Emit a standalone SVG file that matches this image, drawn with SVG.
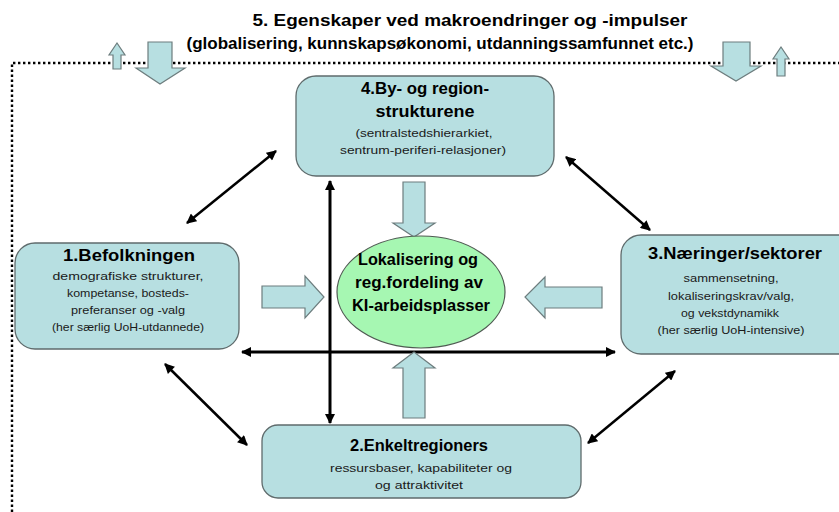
<svg xmlns="http://www.w3.org/2000/svg" width="839" height="512" viewBox="0 0 839 512">
<defs>
<style>
.box{fill:#b7dfe1;stroke:#5f6b6c;stroke-width:1.3}
.blk{fill:#b7dfe1;stroke:#6d7d7e;stroke-width:1.2}
.ttl{font-family:"Liberation Sans",Arial,sans-serif;font-weight:bold;fill:#000;text-anchor:middle}
.sub{font-family:"Liberation Sans",Arial,sans-serif;font-size:11.5px;fill:#1a1a1a;text-anchor:middle}
.con{stroke:#000;fill:none;marker-start:url(#ah);marker-end:url(#ah)}
</style>
<marker id="ah" viewBox="0 0 10 10" refX="9" refY="5" markerWidth="11" markerHeight="10" markerUnits="userSpaceOnUse" orient="auto-start-reverse">
<path d="M0,0 L10,5 L0,10 z" fill="#000"/>
</marker>
</defs>
<rect width="839" height="512" fill="#fff"/>

<g id="frame">
<path d="M12,512 L12,63 L839,63" fill="none" stroke="#000" stroke-width="2.4" stroke-dasharray="2.4,2.6"/>
</g>

<g id="macro">
<text class="ttl" x="470" y="26" font-size="16" textLength="435" lengthAdjust="spacingAndGlyphs">5. Egenskaper ved makroendringer og -impulser</text>
<text class="ttl" x="440" y="49" font-size="16" textLength="507" lengthAdjust="spacingAndGlyphs">(globalisering, kunnskapsøkonomi, utdanningssamfunnet etc.)</text>
<polygon class="blk" points="113,69 113,55 109,55 117,43 125,55 121,55 121,69"/>
<polygon class="blk" points="148,42 172,42 172,68 185,68 160,84 136,68 148,68"/>
<polygon class="blk" points="723,42 750,42 750,66 761,66 736,81 711,66 723,66"/>
<polygon class="blk" points="777,76 777,59 773,59 781,47 789,59 785,59 785,76"/>
</g>

<g id="connectors">
<line class="con" x1="242" y1="352" x2="615" y2="352" stroke-width="3"/>
<line class="con" x1="330" y1="181" x2="330" y2="423" stroke-width="3"/>
<line class="con" x1="187" y1="223" x2="276" y2="151" stroke-width="2.5"/>
<line class="con" x1="566" y1="157" x2="650" y2="230" stroke-width="2.5"/>
<line class="con" x1="165" y1="364" x2="247" y2="445" stroke-width="2.5"/>
<line class="con" x1="588" y1="443" x2="675" y2="371" stroke-width="2.5"/>
<polygon class="blk" points="403,182 425,182 425,223 435,223 414,237 393,223 403,223"/>
<polygon class="blk" points="262,286 305,286 305,276 324,297 305,318 305,308 262,308"/>
<polygon class="blk" points="602,287 545,287 545,277 525,297 545,318 545,308 602,308"/>
<polygon class="blk" points="403,418 403,368 393,368 414,352 435,368 425,368 425,418"/>
</g>

<g id="node4">
<rect class="box" x="296" y="76" width="258" height="100" rx="20"/>
<text class="ttl" x="425" y="94" font-size="17" textLength="128" lengthAdjust="spacingAndGlyphs">4.By- og region-</text>
<text class="ttl" x="425" y="117" font-size="17" textLength="99" lengthAdjust="spacingAndGlyphs">strukturene</text>
<text class="sub" x="424" y="137" textLength="137" lengthAdjust="spacingAndGlyphs">(sentralstedshierarkiet,</text>
<text class="sub" x="423" y="154" textLength="166" lengthAdjust="spacingAndGlyphs">sentrum-periferi-relasjoner)</text>
</g>

<g id="node1">
<rect class="box" x="15" y="243" width="224" height="106" rx="20"/>
<text class="ttl" x="129" y="261" font-size="17" textLength="132" lengthAdjust="spacingAndGlyphs">1.Befolkningen</text>
<text class="sub" x="128" y="280" textLength="151" lengthAdjust="spacingAndGlyphs">demografiske strukturer,</text>
<text class="sub" x="128" y="297" textLength="122" lengthAdjust="spacingAndGlyphs">kompetanse, bosteds-</text>
<text class="sub" x="128" y="314" textLength="114" lengthAdjust="spacingAndGlyphs">preferanser og -valg</text>
<text class="sub" x="128" y="331" textLength="152" lengthAdjust="spacingAndGlyphs">(her særlig UoH-utdannede)</text>
</g>

<g id="node3">
<rect class="box" x="621" y="235" width="240" height="119" rx="20"/>
<text class="ttl" x="735" y="259" font-size="17" textLength="174" lengthAdjust="spacingAndGlyphs">3.Næringer/sektorer</text>
<text class="sub" x="731" y="282" textLength="95" lengthAdjust="spacingAndGlyphs">sammensetning,</text>
<text class="sub" x="731" y="300" textLength="126" lengthAdjust="spacingAndGlyphs">lokaliseringskrav/valg,</text>
<text class="sub" x="730" y="317" textLength="98" lengthAdjust="spacingAndGlyphs">og vekstdynamikk</text>
<text class="sub" x="731" y="334" textLength="147" lengthAdjust="spacingAndGlyphs">(her særlig UoH-intensive)</text>
</g>

<g id="node2">
<rect class="box" x="262" y="425" width="319" height="73" rx="16"/>
<text class="ttl" x="419" y="451" font-size="17" textLength="138" lengthAdjust="spacingAndGlyphs">2.Enkeltregioners</text>
<text class="sub" x="421" y="472" textLength="182" lengthAdjust="spacingAndGlyphs">ressursbaser,  kapabiliteter og</text>
<text class="sub" x="419" y="489" textLength="88" lengthAdjust="spacingAndGlyphs">og attraktivitet</text>
</g>

<g id="center">
<ellipse cx="421" cy="292" rx="84" ry="56" fill="#a6f7b2" stroke="#4f5a52" stroke-width="1.2"/>
<text class="ttl" x="418" y="265" font-size="16.5" textLength="120" lengthAdjust="spacingAndGlyphs">Lokalisering og</text>
<text class="ttl" x="419" y="288" font-size="16.5" textLength="128" lengthAdjust="spacingAndGlyphs">reg.fordeling av</text>
<text class="ttl" x="421" y="311" font-size="16.5" textLength="138" lengthAdjust="spacingAndGlyphs">KI-arbeidsplasser</text>
</g>
</svg>
